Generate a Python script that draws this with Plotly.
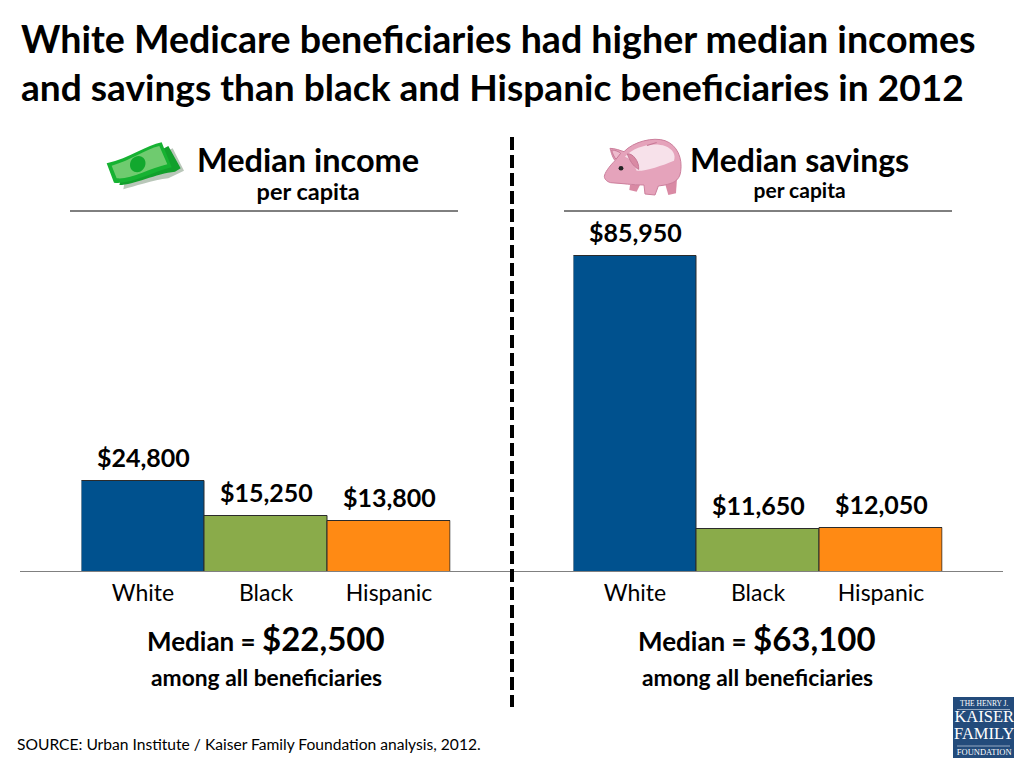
import plotly.graph_objects as go

W, H = 1024, 768
categories = ["White", "Black", "Hispanic"]
income_values = [24800, 15250, 13800]
savings_values = [85950, 11650, 12050]
bar_colors = ["#00518E", "#8AAB4A", "#FF8A14"]
title_line1 = "White Medicare beneficiaries had higher median incomes"
title_line2 = "and savings than black and Hispanic beneficiaries in 2012"
source_text = "SOURCE: Urban Institute / Kaiser Family Foundation analysis, 2012."
FONT = "Lato, Carlito, 'Open Sans', sans-serif"
PX_PER_USD = 316.5 / 85950
BASE_Y = 572
TOP_Y = 212


def px(x):
    return x / W


def py(y):
    return 1 - y / H


def path(cmds, ox=0.0, oy=0.0, s=1.0):
    out = []
    for c in cmds:
        if isinstance(c, str):
            out.append(c)
        else:
            out.append(f"{px(ox + c[0] / s):.5f},{py(oy + c[1] / s):.5f}")
    return " ".join(out)


def shape_path(cmds, fill, ox, oy, s=3.0, line=None, lw=0):
    return dict(type="path", xref="paper", yref="paper", layer="above",
                path=path(cmds, ox, oy, s), fillcolor=fill,
                line=dict(color=line or fill, width=lw))


def rect(x0, y0, x1, y1, fill, line=None, lw=0):
    return dict(type="rect", xref="paper", yref="paper", layer="above",
                x0=px(x0), x1=px(x1), y0=py(y0), y1=py(y1), fillcolor=fill,
                line=dict(color=line or fill, width=lw))


def hline(x0, x1, y, color, w):
    return dict(type="line", xref="paper", yref="paper", layer="above",
                x0=px(x0), x1=px(x1), y0=py(y), y1=py(y), line=dict(color=color, width=w))


def note(x, y, text, size, bold=True, color="#000000", family=FONT, xanchor="center"):
    return dict(xref="paper", yref="paper", x=px(x), y=py(y), text=f"<b>{text}</b>" if bold else text,
                showarrow=False, xanchor=xanchor, yanchor="middle", align="center",
                font=dict(size=size, color=color, family=family), borderpad=0, borderwidth=0)


def span(text, size):
    return f"<span style='font-size:{size}px'>{text}</span>"


fig = go.Figure()
for vals, xa, ya in [(income_values, "x", "y"), (savings_values, "x2", "y2")]:
    fig.add_trace(go.Bar(
        x=categories, y=vals, xaxis=xa, yaxis=ya, width=1,
        marker=dict(color=bar_colors, line=dict(color="#2b2b2b", width=1)),
        cliponaxis=False, hoverinfo="skip", showlegend=False))

y_top = (BASE_Y - TOP_Y) / PX_PER_USD
axis_common = dict(showgrid=False, zeroline=False, showline=False, ticks="",
                   tickfont=dict(size=23, family=FONT, color="#000000"), fixedrange=True,
                   range=[-0.5, 2.5], ticklabelstandoff=5)
yaxis_common = dict(showgrid=False, zeroline=False, showline=False, showticklabels=False,
                    range=[0, y_top], fixedrange=True,
                    domain=[py(BASE_Y), py(TOP_Y)])

shapes = []
# money icon (crop coordinates, 3x, from 90,130)
M = (90, 130)
shapes += [
    shape_path(["M", (100, 178), "C", (130, 170), (190, 150), (235, 145), "L", (282, 122), "L", (248, 55), "L", (110, 120), "Z"], "#B9C7B9", *M),
    shape_path(["M", (88, 165), "C", (130, 165), (200, 130), (255, 125), "L", (272, 115), "L", (235, 48), "L", (100, 120), "Z"], "#12A02C", *M),
    shape_path(["M", (72, 158), "C", (120, 165), (190, 125), (245, 112), "L", (215, 37), "C", (170, 45), (120, 85), (50, 100), "Z"], "#16B232", *M),
    shape_path(["M", (80, 145), "C", (120, 150), (180, 115), (232, 103), "L", (208, 48), "C", (165, 58), (125, 90), (65, 107), "Z"], "#6FCB6F", *M),
    shape_path(["M", (120, 105), "C", (120, 85), (140, 73), (155, 80), "C", (172, 88), (170, 115), (150, 125), "C", (135, 130), (120, 122), (120, 105), "Z"], "#12A82E", *M),
]
# piggy bank icon (crop coordinates, 3x, from 590,130)
P = (590, 130)
shapes += [
    shape_path(["M", (120, 165), "L", (118, 180), "L", (140, 185), "L", (150, 165), "Z"], "#D98AA4", *P),
    shape_path(["M", (225, 160), "L", (235, 195), "L", (258, 190), "L", (262, 130), "Z"], "#D98AA4", *P),
    shape_path(["M", (44, 135), "C", (48, 122), (62, 105), (75, 92), "C", (65, 78), (62, 60), (60, 55), "C", (75, 55), (92, 62), (102, 65),
                "C", (130, 35), (190, 20), (225, 32), "C", (262, 45), (278, 85), (272, 125), "C", (268, 155), (245, 160), (225, 165),
                "L", (205, 168), "L", (195, 195), "L", (165, 192), "L", (162, 165), "C", (130, 165), (95, 160), (62, 158),
                "C", (50, 155), (40, 145), (44, 135), "Z"], "#E5A3BB", *P, line="#CC7F9C", lw=1),
    shape_path(["M", (105, 80), "C", (130, 50), (190, 35), (225, 48), "C", (250, 58), (258, 75), (252, 92), "C", (215, 108), (160, 125), (140, 122),
                "C", (130, 95), (118, 85), (105, 80), "Z"], "#F7E1EA", *P),
    shape_path(["M", (112, 72), "C", (128, 68), (148, 95), (146, 118), "C", (135, 112), (122, 100), (112, 72), "Z"], "#D98AA4", *P, line="#C77896", lw=1),
    shape_path(["M", (65, 60), "C", (75, 60), (88, 65), (92, 70), "L", (78, 88), "C", (72, 80), (67, 70), (65, 60), "Z"], "#EDBBCD", *P, line="#C77896", lw=1),
    shape_path(["M", (170, 45), "L", (200, 36), "L", (200, 39), "L", (172, 48), "Z"], "#C77896", *P),
    dict(type="circle", xref="paper", yref="paper", layer="above", x0=px(618.6), x1=px(623.4),
         y0=py(170.5), y1=py(166), fillcolor="#222222", line=dict(width=0)),
]
# header rules, baseline, divider
shapes += [
    hline(70, 458, 211, "#000000", 1),
    hline(564, 952, 211, "#000000", 1),
    hline(20, 1003, 571.5, "#808080", 1.2),
    dict(type="line", xref="paper", yref="paper", layer="above", x0=px(512), x1=px(512),
         y0=py(137), y1=py(707), line=dict(color="#000000", width=4, dash="13px,5px")),
]
# logo
shapes += [
    rect(953, 697, 1014, 758, "#234B7B"),
    hline(957, 1010, 709.5, "#C9D3E0", 0.7),
    hline(957, 1010, 746, "#C9D3E0", 0.7),
]

SERIF = "'Liberation Serif', serif"
logo_text = "<br>".join([span("THE HENRY J.", 7.5), span("KAISER", 16.5), span("FAMILY", 16.5), span("FOUNDATION", 8.5)])
annotations = [
    note(308, 173, span("Median income", 32.5) + "<br>" + span("per capita", 23.5), 21.3),
    note(799, 171.5, span("Median savings", 32) + "<br>" + span("per capita", 21), 20),
    note(266, 638, span("Median =", 26) + " " + span("$22,500", 33), 26),
    note(266, 677, "among all beneficiaries", 22.8),
    note(757, 638, span("Median =", 26) + " " + span("$63,100", 33), 26),
    note(757, 677, "among all beneficiaries", 22.8),
    note(17, 744, source_text, 15.6, bold=False, xanchor="left"),
    note(983.5, 728, logo_text, 12.5, bold=False, color="#FFFFFF", family=SERIF),
]
# value labels, positioned through each panel's axes
for vals, xa, ya in [(income_values, "x", "y"), (savings_values, "x2", "y2")]:
    for c, v in zip(categories, vals):
        annotations.append(dict(xref=xa, yref=ya, x=c, y=v, text=f"<b>${v:,}</b>", showarrow=False,
                                xanchor="center", yanchor="middle", yshift=24,
                                font=dict(size=25, family=FONT, color="#000000")))

title_html = f"<b>{span(title_line1, 37.6)}<br>{span(title_line2, 37.1)}</b>"
fig.update_layout(
    width=W, height=H, margin=dict(l=0, r=0, t=0, b=0, autoexpand=False),
    paper_bgcolor="#FFFFFF", plot_bgcolor="#FFFFFF", bargap=0, barmode="overlay",
    font=dict(family=FONT, color="#000000"),
    title=dict(text=title_html, xref="paper", yref="paper", x=px(21), y=py(53),
               xanchor="left", yanchor="top", automargin=False, font=dict(size=37, family=FONT, color="#000000")),
    xaxis=dict(domain=[px(81.5), px(450.5)], anchor="y", **axis_common),
    xaxis2=dict(domain=[px(573.5), px(942.5)], anchor="y2", **axis_common),
    yaxis=dict(anchor="x", **yaxis_common),
    yaxis2=dict(anchor="x2", **yaxis_common),
    shapes=shapes, annotations=annotations,
)
fig.write_html("out.html", config=dict(displayModeBar=False),
               post_script="document.body.style.margin='0';")
